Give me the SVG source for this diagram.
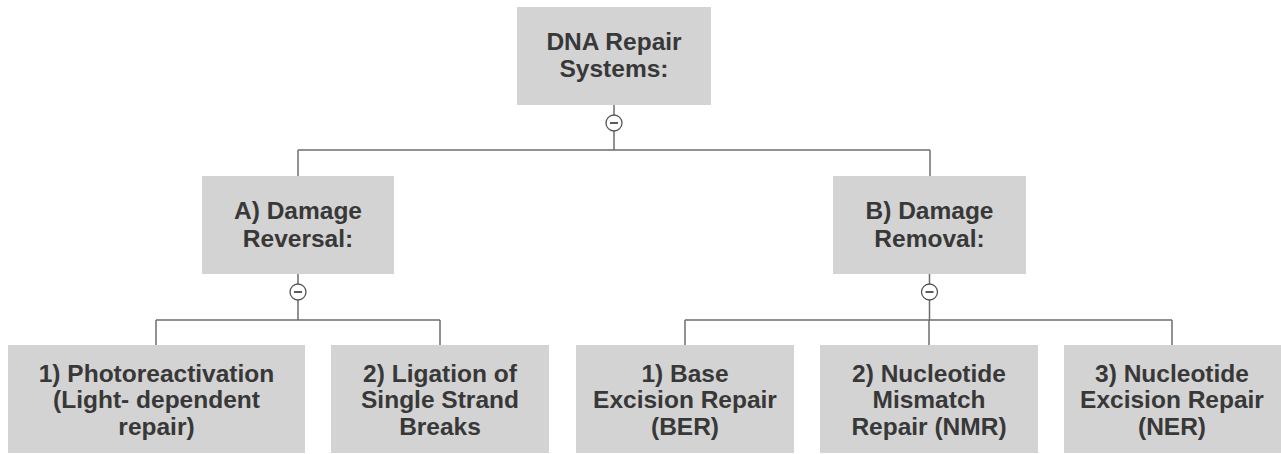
<svg xmlns="http://www.w3.org/2000/svg" width="1281" height="454" viewBox="0 0 1281 454">
<style>
.box{fill:#d3d3d3;}
.t{font-family:"Liberation Sans",Arial,sans-serif;font-weight:bold;font-size:24.5px;fill:#383838;text-anchor:middle;}
.ln{stroke:#6e6e6e;stroke-width:1.5;fill:none;}
.tog{fill:#ffffff;stroke:#555555;stroke-width:1.3;}
.minus{stroke:#333333;stroke-width:1.6;}
</style>
<rect width="1281" height="454" fill="#ffffff"/>
<g id="connectors">
<path class="ln" d="M614 105V150M298 150H930M298 150V176M930 150V176"/>
<path class="ln" d="M298 274V320M156 320H440M156 320V345M440 320V345"/>
<path class="ln" d="M929.5 274V320M685 320H1172M685 320V345M929 320V345M1172 320V345"/>
<g><circle class="tog" cx="614" cy="123" r="8"/><line class="minus" x1="610" y1="123" x2="618" y2="123"/></g>
<g><circle class="tog" cx="298" cy="292" r="8"/><line class="minus" x1="294" y1="292" x2="302" y2="292"/></g>
<g><circle class="tog" cx="929.5" cy="292" r="8"/><line class="minus" x1="925.5" y1="292" x2="933.5" y2="292"/></g>
</g>
<g id="root">
<rect class="box" x="517" y="7" width="194" height="98"/>
<text class="t" x="614" y="50">DNA Repair</text>
<text class="t" x="614" y="77">Systems:</text>
</g>
<g id="nodeA">
<rect class="box" x="202" y="176" width="192" height="98"/>
<text class="t" x="298" y="219">A) Damage</text>
<text class="t" x="298" y="247">Reversal:</text>
</g>
<g id="nodeB">
<rect class="box" x="833" y="176" width="193" height="98"/>
<text class="t" x="929.5" y="219">B) Damage</text>
<text class="t" x="929.5" y="247">Removal:</text>
</g>
<g id="a1">
<rect class="box" x="8" y="345" width="297" height="108"/>
<text class="t" x="156.5" y="382">1) Photoreactivation</text>
<text class="t" x="156.5" y="408">(Light- dependent</text>
<text class="t" x="156.5" y="435">repair)</text>
</g>
<g id="a2">
<rect class="box" x="331" y="345" width="218" height="108"/>
<text class="t" x="440" y="382">2) Ligation of</text>
<text class="t" x="440" y="408">Single Strand</text>
<text class="t" x="440" y="435">Breaks</text>
</g>
<g id="b1">
<rect class="box" x="576" y="345" width="218" height="108"/>
<text class="t" x="685" y="382">1) Base</text>
<text class="t" x="685" y="408">Excision Repair</text>
<text class="t" x="685" y="435">(BER)</text>
</g>
<g id="b2">
<rect class="box" x="820" y="345" width="218" height="108"/>
<text class="t" x="929" y="382">2) Nucleotide</text>
<text class="t" x="929" y="408">Mismatch</text>
<text class="t" x="929" y="435">Repair (NMR)</text>
</g>
<g id="b3">
<rect class="box" x="1064" y="345" width="217" height="108"/>
<text class="t" x="1172" y="382">3) Nucleotide</text>
<text class="t" x="1172" y="408">Excision Repair</text>
<text class="t" x="1172" y="435">(NER)</text>
</g>
</svg>
